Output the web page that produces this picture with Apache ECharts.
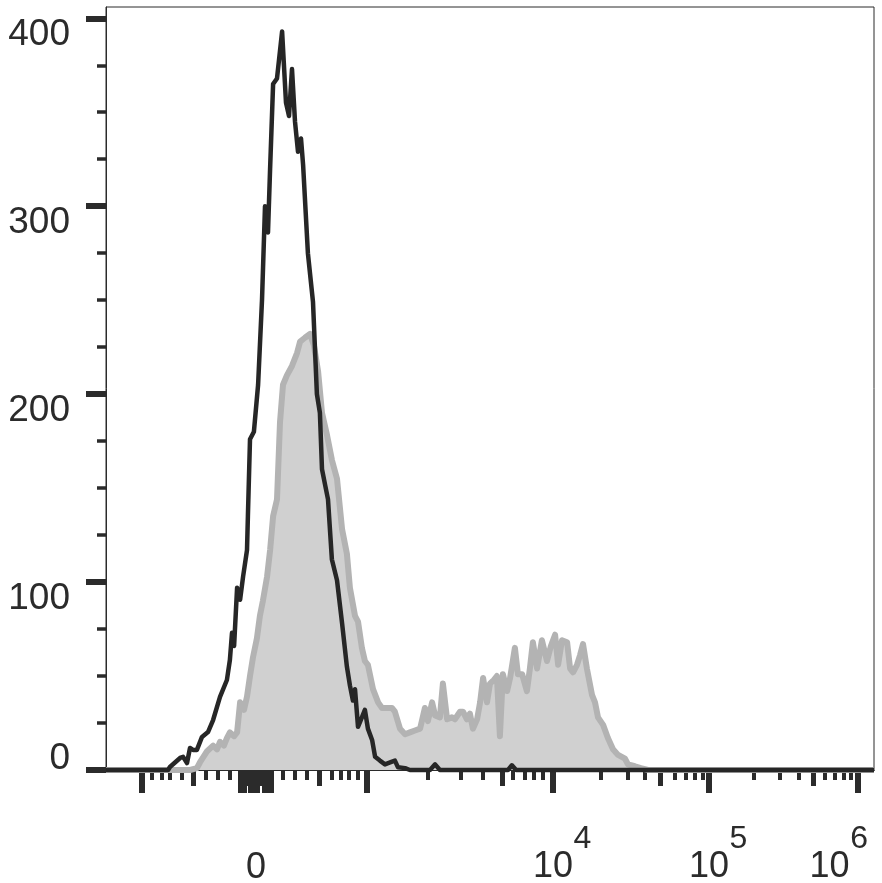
<!DOCTYPE html>
<html>
<head>
<meta charset="utf-8">
<script src="https://cdn.jsdelivr.net/npm/echarts@6/dist/echarts.min.js"></script>
<style>html,body{margin:0;padding:0;background:#fff}#c{width:882px;height:883px}</style>
</head>
<body>
<div id="c"></div>
<script>
// Channel scale: 0..256 display channels across the plot (biexponential display)
const blackCh = [0,20.7,21.3,23.0,24.7,25.7,27.0,28.0,29.0,30.3,32.0,34.0,35.7,38.0,40.3,41.3,42.0,42.7,43.7,44.7,45.7,47.0,47.3,48.0,49.3,50.7,52.0,53.0,54.0,54.7,55.7,57.0,58.7,60.0,61.0,62.0,63.0,64.0,65.0,65.7,67.3,69.0,70.3,71.3,72.0,73.0,74.0,75.3,77.0,78.7,80.3,81.3,82.3,83.0,84.0,85.3,86.3,87.3,88.7,89.7,91.3,93.0,94.7,96.3,97.3,99.7,101.3,108.0,109.7,111.3,134.0,135.3,136.7,256];
const blackCount = [0,0,1.6,4,6.4,7,3.7,11.7,10.7,10.7,17.6,20.2,26.6,38.9,47.9,58.6,73,66,97,90.6,103,117,135,176,180,205,250,300,286,320,365,368,393,355,348,373,345,329,336,322,275,249,200,190,160,152,144,112,101,78,55,45,37,43,23,28,32,22,16,7,5,3,4,5,1.5,1,0,0,3,0,0,2.5,0,0];

const grayCh = [0,28.0,30.3,31.3,33.7,35.7,37.0,38.0,39.3,40.3,41.3,42.7,43.7,44.7,46.0,47.0,48.0,49.0,50.3,51.3,52.3,53.7,54.7,55.7,57.0,58.0,59.0,60.3,62.0,63.7,64.7,66.3,68.0,69.3,70.7,72.0,73.7,75.3,77.0,78.7,80.3,81.3,83.0,84.0,85.3,86.3,87.3,89.0,90.7,92.0,93.7,95.3,96.3,98.0,99.7,101.3,103.0,104.7,106.3,107.3,108.7,109.7,111.3,112.3,113.7,115.3,116.3,118.0,119.0,120.3,121.3,122.3,123.7,124.7,125.7,127.0,128.0,129.3,130.3,131.3,132.3,133.7,134.7,136.3,137.3,138.7,140.3,141.3,142.3,143.7,145.3,147.0,148.3,149.7,150.7,152.0,153.7,154.7,155.7,157.0,158.0,159.0,160.3,162.0,163.0,164.0,165.7,167.3,169.0,170.7,173.0,174.0,176.3,178.3,180.7,256];
const grayCount = [0,0,1,4,10,13,11,15,13,17,20,18,20,36,32,39,50,60,70,82,90,103,117,135,144,185,205,210,215,222,228,230,232,226,212,190,178,165,155,128,115,97,82,79,65,58,56,43,36,33,33,33,31,22,19,20,21,22,33,26,36,29,28,46,27,28,27,31,31,27,30,22,27,36,49,36,46,48,50,18,51,42,49,65,51,51,42,54,68,54,69,58,66,72,56,69,68,54,52,56,61,67,54,40,36,28,24,17,11,8,6,3,2,1,0,0];

// x tick positions (display channels) for decade / half-decade / minor ticks
const xLongTicks = [12,45,46,48.33,49.33,50.33,53,54,55,87,149,201,250.67];
const xMedTicks = [29,47,51.67,71,132,184.67,235.67];
const xShortTicks = [15.33,18.67,21.33,25.33,33.33,37.33,41.33,59,63,67,75.33,78.33,81,84,107.33,118.33,125.67,135.67,139.67,142.67,145.67,165,174,179.67,189.67,193.33,196.33,199,216,224.67,231,239.67,243,246,248.33];
const xZeroLabel = [50];
const xDecadeLabels = [149,201];
const xDecadeExp = ['4','5'];
const xTopLabel = [250.67];
const xTopExp = '6';

const yMajor = [0,100,200,300,400];
const yMinor = [25,50,75,125,150,175,225,250,275,325,350,375];
const yLabelsUpper = [100,200,300,400];
const yLabelZero = [0];

const FONT = 'Liberation Sans, Arial, Helvetica, sans-serif';
const INK = '#2b2b2b';

const toPairs = (xs, ys) => xs.map((x, i) => [x, ys[i]]);

const rich = {
  b: {fontSize: 36, lineHeight: 40, color: INK, fontFamily: FONT, verticalAlign: 'bottom'},
  sup: {fontSize: 32, lineHeight: 30, width: 19, color: INK, fontFamily: FONT, padding: [0,0,30,0], verticalAlign: 'bottom'},
  pad: {fontSize: 32, lineHeight: 30, width: 19, verticalAlign: 'bottom'},
  pad6: {fontSize: 32, lineHeight: 30, width: 38, verticalAlign: 'bottom'}
};

const baseX = {
  type: 'value', min: 0, max: 256, position: 'bottom',
  axisLine: {show: true, onZero: false, lineStyle: {color: INK, width: 1}},
  splitLine: {show: false}
};

const chart = echarts.init(document.getElementById('c'), null, {renderer: 'canvas'});
chart.setOption({
  animation: false,
  backgroundColor: '#fff',
  grid: {left: 106, right: 8, top: 7, bottom: 113, show: true, borderColor: INK, borderWidth: 1,
         containLabel: false, outerBoundsMode: 'none'},
  xAxis: [
    Object.assign({}, baseX, {
      axisTick: {show: true, customValues: xLongTicks, length: 23, lineStyle: {color: INK, width: 6}},
      axisLabel: {show: true, customValues: xDecadeLabels, margin: 75, rich: rich,
        formatter: v => { const i = xDecadeLabels.findIndex(d => Math.abs(d - v) < 0.1); return '{pad| }{b|10}{sup|' + xDecadeExp[i] + '}'; }}
    }),
    Object.assign({}, baseX, {
      axisTick: {show: true, customValues: xMedTicks, length: 16, lineStyle: {color: INK, width: 5}},
      axisLabel: {show: true, customValues: xZeroLabel, margin: 80, fontSize: 36, color: INK, fontFamily: FONT, formatter: () => '0'}
    }),
    Object.assign({}, baseX, {
      axisTick: {show: true, customValues: xShortTicks, length: 10, lineStyle: {color: INK, width: 4}},
      axisLabel: {show: true, customValues: xTopLabel, margin: 75, rich: rich,
        formatter: () => '{b|10}{sup|' + xTopExp + '}{pad6| }'}
    })
  ],
  yAxis: [
    {
      type: 'value', min: 0, max: 406, position: 'left',
      axisLine: {show: true, lineStyle: {color: INK, width: 1}},
      splitLine: {show: false},
      axisTick: {show: true, customValues: yMajor, length: 20, lineStyle: {color: INK, width: 6}},
      axisLabel: {show: true, customValues: yLabelsUpper, margin: 36, fontSize: 37, color: INK, fontFamily: FONT,
                  verticalAlign: 'top', lineHeight: 34}
    },
    {
      type: 'value', min: 0, max: 406, position: 'left',
      axisLine: {show: false},
      splitLine: {show: false},
      axisTick: {show: true, customValues: yMinor, length: 9, lineStyle: {color: INK, width: 3.5}},
      axisLabel: {show: true, customValues: yLabelZero, margin: 36, fontSize: 37, color: INK, fontFamily: FONT,
                  verticalAlign: 'bottom', lineHeight: 22}
    }
  ],
  series: [
    {
      type: 'line', xAxisIndex: 0, yAxisIndex: 0, data: toPairs(grayCh, grayCount),
      showSymbol: false, symbol: 'none', clip: false,
      lineStyle: {color: '#b3b3b3', width: 6, join: 'round'},
      areaStyle: {color: '#d0d0d0', opacity: 1},
      z: 2
    },
    {
      type: 'line', xAxisIndex: 0, yAxisIndex: 0, data: toPairs(blackCh, blackCount),
      showSymbol: false, symbol: 'none', clip: false,
      lineStyle: {color: '#262626', width: 4.5, join: 'round'},
      z: 3
    }
  ]
});
</script>
</body>
</html>
